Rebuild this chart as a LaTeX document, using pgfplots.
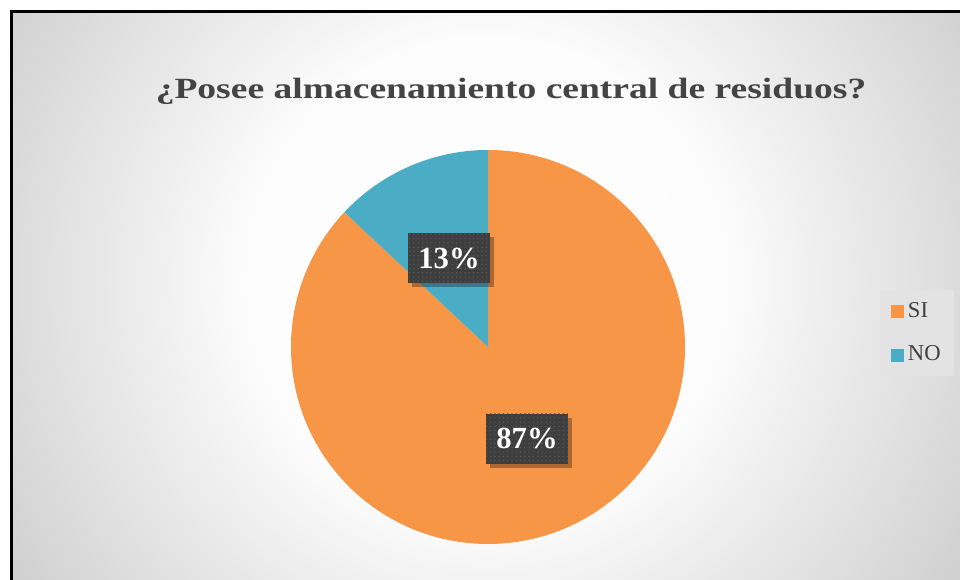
\documentclass[border=0pt]{standalone}
\usepackage{pgfplots}
\pgfplotsset{compat=1.18}
\usepackage{pgfplotstable}
\usepackage{graphicx}
\usepackage{fontspec}
\setmainfont{Liberation Serif}
\usetikzlibrary{shadows,patterns.meta}
\definecolor{siorange}{HTML}{F79646}
\definecolor{noblue}{HTML}{4BACC6}
\definecolor{titlegray}{HTML}{444444}
\definecolor{boxgray}{HTML}{3E3E3E}
\definecolor{dotgray}{HTML}{5C5C5C}
\definecolor{leggray}{HTML}{E3E3E3}
\definecolor{legtext}{HTML}{404040}
\definecolor{gA}{RGB}{252,252,252}
\definecolor{gB}{RGB}{243,243,243}
\definecolor{gC}{RGB}{212,212,212}
\definecolor{gD}{RGB}{200,200,200}
\definecolor{gE}{RGB}{192,192,192}
\pgfdeclareradialshading{bgshade}{\pgfpoint{0bp}{0bp}}{color(0bp)=(white); color(10.8bp)=(gA); color(13.5bp)=(gB); color(23.6bp)=(gC); color(27.6bp)=(gD); color(30.3bp)=(gE); color(50bp)=(gE)}
\pgfplotstableread{
label value
SI 87
NO 13
}\piedata
\begin{document}
\begin{tikzpicture}
\pgfplotstablegetelem{0}{value}\of\piedata \let\vSI\pgfplotsretval
\pgfplotstablegetelem{1}{value}\of\piedata \let\vNO\pgfplotsretval
\pgfmathsetmacro{\aSI}{90-3.6*\vSI}
\pgfmathsetmacro{\aNO}{\aSI-3.6*\vNO}
\begin{axis}[
  xmin=0, xmax=960, ymin=0, ymax=580,
  width=720pt, height=435pt, scale only axis,
  hide axis, clip=false,
  legend style={at={(0.9167,0.5)}, anchor=north west, fill=leggray, draw=none,
    text=legtext,
    font=\fontsize{17}{18}\selectfont, row sep=15.5pt, inner xsep=8pt, inner ysep=7.5pt,
    /tikz/every odd column/.append style={column sep=1pt}},
  legend cell align=left,
  legend image code/.code={\fill[#1, draw=none] (0pt,-5.3pt) rectangle (9.75pt,4.45pt);},
]
\begin{scope}
\clip (axis cs:12,0) rectangle (axis cs:960,568);
\fill[shading=bgshade] (axis cs:-74,-260) rectangle (axis cs:1046,860);
\end{scope}
\draw[line width=1.6pt, black] (axis cs:11.5,0) -- (axis cs:11.5,568.5) -- (axis cs:960,568.5);
% pie slices
\fill[siorange] (axis cs:488,233) -- ++(90:147.75pt) arc[start angle=90, end angle=\aSI, radius=147.75pt] -- cycle;
\fill[noblue] (axis cs:488,233) -- ++(\aSI:147.75pt) arc[start angle=\aSI, end angle=\aNO, radius=147.75pt] -- cycle;
\addlegendimage{fill=siorange, draw=none}
\addlegendentry{SI}
\addlegendimage{fill=noblue, draw=none}
\addlegendentry{NO}
% labels
\node[fill=boxgray, text=white, font=\bfseries\fontsize{23}{25}\selectfont,
  minimum width=61pt, minimum height=37.5pt, inner sep=0pt,
  drop shadow={shadow xshift=3pt, shadow yshift=-3pt, fill=black, opacity=0.3},
  postaction={pattern={Dots[distance=3.2pt, radius=0.55pt]}, pattern color=dotgray}] at (axis cs:449,321.5) {\vNO\%};
\node[fill=boxgray, text=white, font=\bfseries\fontsize{23}{25}\selectfont,
  minimum width=61pt, minimum height=37.5pt, inner sep=0pt,
  drop shadow={shadow xshift=3pt, shadow yshift=-3pt, fill=black, opacity=0.3},
  postaction={pattern={Dots[distance=3.2pt, radius=0.55pt]}, pattern color=dotgray}] at (axis cs:527,141) {\vSI\%};
% title
\node[anchor=base, text=titlegray, font=\bfseries\fontsize{22}{24}\selectfont, inner sep=0pt] at (axis cs:511,481) {\scalebox{1.28}[1]{¿Posee almacenamiento central de residuos?}};
\end{axis}
\pgfresetboundingbox
\path (0,0) rectangle (720pt,435pt);
\end{tikzpicture}
\end{document}
